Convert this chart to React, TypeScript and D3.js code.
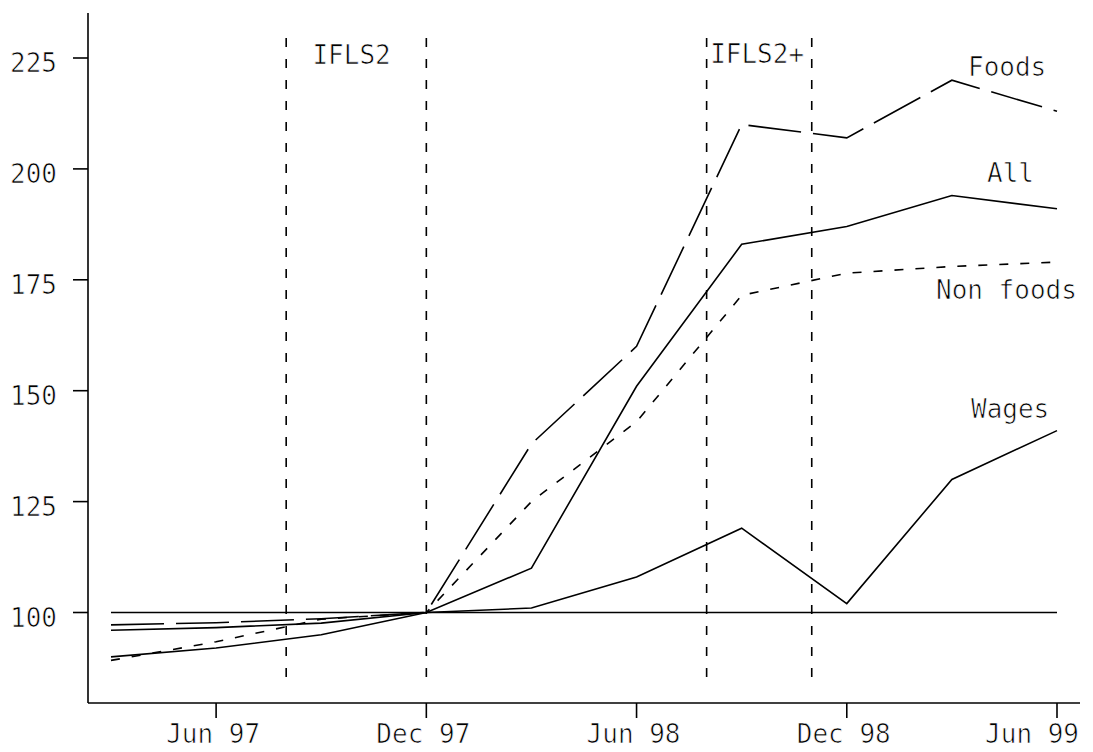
import * as d3 from 'd3';

// quarter-end months, counted from Jan 97 = 0
const months = [2, 5, 8, 11, 14, 17, 20, 23, 26, 29];
const foods = [97.2, 97.7, 98.6, 100, 138, 160, 210, 207, 220, 213];
const all = [96, 96.6, 97.6, 100, 110, 151, 183, 187, 194, 191];
const nonFoods = [89.2, 93.4, 98.5, 100, 125, 143, 171.5, 176.5, 178, 179];
const wages = [90, 92, 95, 100, 101, 108, 119, 102, 130, 141];
const base = [100, 100, 100, 100, 100, 100, 100, 100, 100, 100];

const yTicks = [100, 125, 150, 175, 200, 225];
const xTickMonths = [5, 11, 17, 23, 29];
const xTickLabels = ['Jun 97', 'Dec 97', 'Jun 98', 'Dec 98', 'Jun 99'];

// survey windows
const surveyLines = [7, 11, 19, 22];
const surveyLabels = [
  { text: 'IFLS2', m: 7.75, v: 223.6 },
  { text: 'IFLS2+', m: 19.1, v: 223.9 },
];

const series = [
  { name: 'Foods', values: foods, dash: '53,12', lx: 968, lv: 220.9 },
  { name: 'All', values: all, dash: null, lx: 987, lv: 197 },
  { name: 'Non foods', values: nonFoods, dash: '9,12', lx: 936, lv: 170.7 },
  { name: 'Wages', values: wages, dash: null, lx: 971, lv: 143.8 },
  { name: '', values: base, dash: null, lx: 0, lv: 0 },
];

const W = 1093;
const H = 752;
const font = '"DejaVu Sans Mono", monospace';

export default function App() {
  const x = d3.scaleLinear().domain([2, 29]).range([111, 1057]);
  const y = d3.scaleLinear().domain([100, 225]).range([612.5, 58]);
  const axisX = 88;
  const axisY = 703;

  const line = d3
    .line<number>()
    .x((_, i) => x(months[i]))
    .y((d) => y(d));

  // thin the glyphs a little with a white outline
  const txt = { fontSize: 26, stroke: '#fff', strokeWidth: 0.7 };

  return (
    <svg
      width={W}
      height={H}
      style={{ position: 'absolute', left: 0, top: 0, background: '#fff' }}
      fontFamily={font}
    >
      {/* axes */}
      <line x1={axisX} x2={axisX} y1={13} y2={axisY} stroke="#000" strokeWidth={1.6} />
      <line x1={axisX} x2={1080} y1={axisY} y2={axisY} stroke="#000" strokeWidth={1.6} />
      {yTicks.map((t) => (
        <g key={t}>
          <line x1={73} x2={axisX} y1={y(t)} y2={y(t)} stroke="#000" strokeWidth={1.6} />
          <text x={57} y={y(t) + 14} textAnchor="end" {...txt}>
            {t}
          </text>
        </g>
      ))}
      {xTickMonths.map((m, i) => {
        const last = i === xTickMonths.length - 1;
        return (
          <g key={m}>
            <line x1={x(m)} x2={x(m)} y1={axisY} y2={axisY + 15} stroke="#000" strokeWidth={1.6} />
            <text
              x={last ? 1079 : x(m) - 3}
              y={axisY + 40}
              textAnchor={last ? 'end' : 'middle'}
              {...txt}
            >
              {xTickLabels[i]}
            </text>
          </g>
        );
      })}

      {/* survey period markers */}
      {surveyLines.map((m) => (
        <line
          key={m}
          x1={x(m)}
          x2={x(m)}
          y1={38}
          y2={680}
          stroke="#000"
          strokeWidth={1.6}
          strokeDasharray="9,12"
        />
      ))}
      {surveyLabels.map((s) => (
        <text key={s.text} x={x(s.m)} y={y(s.v)} {...txt}>
          {s.text}
        </text>
      ))}

      {/* series */}
      {series.map((s, i) => (
        <path
          key={i}
          d={line(s.values) || ''}
          fill="none"
          stroke="#000"
          strokeWidth={1.6}
          strokeDasharray={s.dash || undefined}
        />
      ))}
      {series
        .filter((s) => s.name)
        .map((s) => (
          <text key={s.name} x={s.lx} y={y(s.lv)} {...txt}>
            {s.name}
          </text>
        ))}
    </svg>
  );
}
